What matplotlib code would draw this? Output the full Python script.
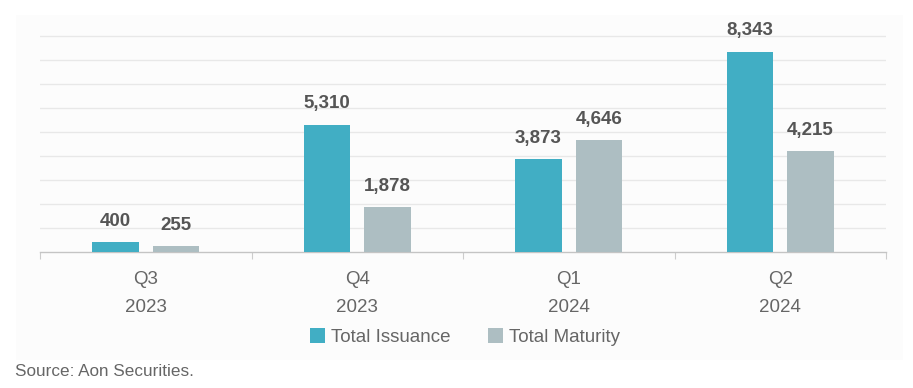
import matplotlib
matplotlib.use("Agg")
import matplotlib.pyplot as plt
from matplotlib.patches import Rectangle, Patch
import matplotlib.transforms as mtransforms

quarters = ["Q3", "Q4", "Q1", "Q2"]
years = ["2023", "2023", "2024", "2024"]
issuance = [400, 5310, 3873, 8343]
maturity = [255, 1878, 4646, 4215]
series_names = ["Total Issuance", "Total Maturity"]
colors = ["#41aec4", "#adbec2"]

W, H = 913, 388
fig = plt.figure(figsize=(W / 100, H / 100), dpi=100)
fig.patch.set_facecolor("white")
plt.rcParams["font.family"] = ["Liberation Sans", "DejaVu Sans"]

# light background panel
fig.add_artist(Rectangle((16 / W, 1 - 360 / H), (903 - 16) / W, (360 - 15) / H,
                         transform=fig.transFigure, facecolor="#fcfcfc",
                         edgecolor="none", zorder=0))

ax = fig.add_axes([40 / W, 1 - 252 / H, (886 - 40) / W, (252 - 12) / H])
ax.set_facecolor("none")
ax.set_xlim(-0.5, 3.5)
ax.set_ylim(0, 10000)

x = list(range(len(quarters)))
bw = 0.222
off = 0.143
b1 = ax.bar([i - off for i in x], issuance, width=bw, color=colors[0], zorder=3)
b2 = ax.bar([i + off for i in x], maturity, width=bw, color=colors[1], zorder=3)

for bars, vals in ((b1, issuance), (b2, maturity)):
    for r, v in zip(bars, vals):
        ax.annotate(f"{v:,}", (r.get_x() + r.get_width() / 2, v),
                    xytext=(0, 15), textcoords="offset points",
                    ha="center", va="center", fontsize=13.5,
                    fontweight="bold", color="#555555", zorder=4)

# gridlines
ax.set_yticks(range(1000, 10000, 1000))
ax.yaxis.grid(True, color="#e8e8e8", linewidth=1, zorder=0)
ax.tick_params(axis="y", left=False, labelleft=False)
for s in ("top", "right", "left"):
    ax.spines[s].set_visible(False)
ax.spines["bottom"].set_color("#c4c4c4")
ax.spines["bottom"].set_linewidth(1)

# category boundary ticks
ax.set_xticks([-0.5, 0.5, 1.5, 2.5, 3.5])
ax.set_xticklabels([])
ax.tick_params(axis="x", direction="out", length=5, color="#cccccc", width=0.8)

trans = mtransforms.blended_transform_factory(ax.transData, fig.transFigure)
for i, (q, yv) in enumerate(zip(quarters, years)):
    ax.text(i, 1 - 280 / H, q, transform=trans, ha="center", va="center",
            fontsize=13.5, color="#666666")
    ax.text(i, 1 - 307 / H, yv, transform=trans, ha="center", va="center",
            fontsize=13.5, color="#666666")

handles = [Patch(facecolor=colors[0], edgecolor="none"),
           Patch(facecolor=colors[1], edgecolor="none")]
leg = fig.legend(handles, series_names, loc="center", bbox_to_anchor=(465 / W, 1 - 337 / H),
                 ncol=2, frameon=False, fontsize=13.5, handlelength=0.8, handleheight=0.8,
                 handletextpad=0.3, columnspacing=2.0, labelcolor="#666666")

fig.text(15 / W, 1 - 371 / H, "Source: Aon Securities.", ha="left", va="center",
         fontsize=12.3, color="#666666")

fig.savefig("out.png", dpi=100)
